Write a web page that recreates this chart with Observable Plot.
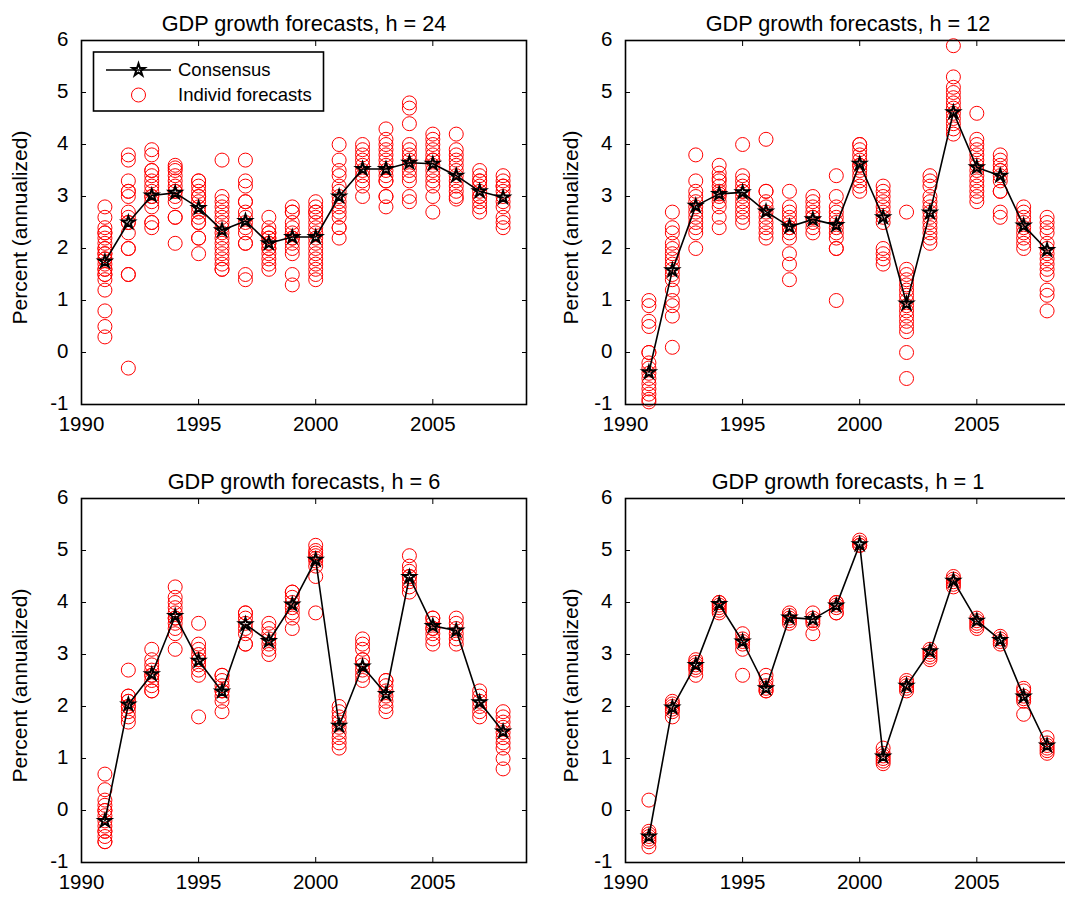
<!DOCTYPE html>
<html>
<head>
<meta charset="utf-8">
<script src="https://cdn.jsdelivr.net/npm/d3@7"></script>
<script src="https://cdn.jsdelivr.net/npm/@observablehq/plot@0.6"></script>
<style>
html, body { margin: 0; padding: 0; background: #fff; overflow: hidden; }
#wrap { position: relative; width: 1065px; height: 899px; overflow: hidden; background: #fff;
  font-family: "Liberation Sans", Arial, Helvetica, sans-serif; }
.panel { position: absolute; }
#legend { position: absolute; left: 0; top: 0; }
</style>
</head>
<body>
<div id="wrap"></div>
<script>
// ---------- DATA ----------
const years = [1991,1992,1993,1994,1995,1996,1997,1998,1999,2000,2001,2002,2003,2004,2005,2006,2007,2008];

const xTickLabels = [1990, 1995, 2000, 2005];
const yTickLabels = [-1, 0, 1, 2, 3, 4, 5, 6];

const titles = ["GDP growth forecasts, h = 24", "GDP growth forecasts, h = 12",
                "GDP growth forecasts, h = 6", "GDP growth forecasts, h = 1"];
const yLabel = "Percent (annualized)";
const legendLabels = ["Consensus", "Individ forecasts"];

const consensus24 = [1.75,2.5,3.02,3.07,2.78,2.35,2.53,2.1,2.22,2.22,3.0,3.53,3.53,3.65,3.63,3.4,3.1,2.98];
const consensus12 = [-0.38,1.58,2.82,3.05,3.08,2.71,2.42,2.56,2.45,3.63,2.6,0.94,2.69,4.62,3.56,3.4,2.44,1.97];
const consensus6  = [-0.2,2.04,2.62,3.74,2.88,2.29,3.58,3.26,3.96,4.82,1.63,2.77,2.24,4.49,3.55,3.46,2.08,1.52];
const consensus1  = [-0.5,1.98,2.8,3.97,3.25,2.35,3.71,3.68,3.94,5.12,1.04,2.4,3.06,4.42,3.65,3.28,2.19,1.25];

const indiv24 = [
  [2.8,2.6,2.4,2.3,2.3,2.2,2.1,2.0,2.0,1.9,1.9,1.8,1.8,1.7,1.6,1.6,1.5,1.5,1.4,1.2,0.8,0.5,0.3],
  [3.8,3.7,3.3,3.1,3.1,3.0,2.7,2.6,2.5,2.5,2.3,2.0,2.0,1.5,1.5,-0.3],
  [3.9,3.8,3.5,3.5,3.4,3.3,3.2,3.1,3.0,3.0,2.9,2.8,2.5,2.5,2.4],
  [3.6,3.55,3.5,3.4,3.3,3.2,3.1,3.1,3.0,2.9,2.6,2.6,2.1],
  [3.3,3.3,3.2,3.1,3.0,3.0,2.9,2.8,2.7,2.6,2.5,2.5,2.2,2.2,1.9],
  [3.7,3.0,2.9,2.8,2.7,2.6,2.5,2.4,2.3,2.2,2.1,2.0,1.9,1.8,1.7,1.6,1.6],
  [3.7,3.3,3.2,2.9,2.9,2.7,2.6,2.5,2.4,2.3,2.1,2.1,1.5,1.4],
  [2.6,2.4,2.3,2.3,2.2,2.2,2.1,2.1,2.0,2.0,1.9,1.8,1.7,1.6],
  [2.8,2.7,2.7,2.5,2.4,2.3,2.2,2.2,2.1,2.0,1.9,1.5,1.3],
  [2.9,2.8,2.7,2.7,2.6,2.5,2.4,2.3,2.2,2.1,2.0,1.9,1.8,1.7,1.6,1.5,1.4],
  [4.0,3.7,3.5,3.4,3.2,3.1,3.0,2.9,2.8,2.7,2.6,2.4,2.4,2.2],
  [4.0,3.9,3.8,3.7,3.6,3.5,3.4,3.3,3.2,3.0],
  [4.3,4.1,4.0,3.9,3.8,3.7,3.6,3.5,3.4,3.3,3.3,3.0,3.0,2.8],
  [4.8,4.7,4.4,4.0,3.9,3.8,3.7,3.6,3.5,3.4,3.3,3.0,2.9],
  [4.2,4.1,4.0,3.9,3.8,3.7,3.7,3.6,3.5,3.4,3.3,3.2,3.0,2.7],
  [4.2,3.9,3.8,3.7,3.6,3.5,3.4,3.3,3.2,3.1,3.0,2.95],
  [3.5,3.4,3.3,3.3,3.2,3.1,3.0,3.0,2.9,2.8,2.7],
  [3.4,3.3,3.2,3.2,3.1,3.0,2.9,2.8,2.6,2.5,2.4]
];

const indiv12 = [
  [1.0,0.9,0.6,0.5,0.0,0.0,-0.2,-0.3,-0.4,-0.5,-0.6,-0.7,-0.8,-0.9,-0.95],
  [2.7,2.4,2.3,2.1,2.0,1.9,1.8,1.7,1.6,1.5,1.4,1.2,1.0,0.9,0.7,0.1],
  [3.8,3.3,3.1,3.0,2.9,2.8,2.7,2.6,2.5,2.4,2.3,2.0],
  [3.6,3.45,3.35,3.3,3.2,3.1,3.05,3.0,2.9,2.8,2.6,2.4],
  [4.0,3.4,3.3,3.2,3.1,3.1,3.0,2.9,2.8,2.7,2.6,2.5],
  [4.1,3.1,3.1,2.9,2.8,2.7,2.6,2.5,2.4,2.3,2.2],
  [3.1,2.8,2.7,2.6,2.5,2.4,2.4,2.3,2.2,1.9,1.7,1.4],
  [3.0,2.9,2.8,2.7,2.6,2.6,2.5,2.4,2.3],
  [3.4,3.0,2.8,2.7,2.6,2.5,2.4,2.3,2.2,2.0,2.0,1.0],
  [4.0,4.0,3.9,3.8,3.7,3.6,3.6,3.5,3.4,3.3,3.2,3.1],
  [3.2,3.1,3.0,2.9,2.8,2.7,2.6,2.5,2.0,1.9,1.8,1.7],
  [2.7,1.6,1.5,1.4,1.3,1.2,1.1,1.0,0.9,0.8,0.7,0.6,0.5,0.4,0.0,-0.5],
  [3.4,3.3,3.2,3.0,2.9,2.8,2.7,2.6,2.5,2.4,2.3,2.2,2.1],
  [5.9,5.3,5.1,5.0,4.9,4.8,4.7,4.6,4.5,4.4,4.3,4.2],
  [4.6,4.1,4.0,3.9,3.8,3.7,3.6,3.5,3.4,3.3,3.2,3.1,3.0,2.9],
  [3.8,3.7,3.6,3.5,3.5,3.4,3.3,3.1,3.1,2.7,2.6],
  [2.8,2.7,2.6,2.5,2.4,2.3,2.2,2.1,2.0],
  [2.6,2.5,2.4,2.3,2.1,2.0,1.9,1.8,1.7,1.6,1.5,1.2,1.1,0.8]
];

const indiv6 = [
  [0.7,0.4,0.2,0.1,0.0,0.0,-0.1,-0.2,-0.3,-0.4,-0.4,-0.5,-0.6,-0.6],
  [2.7,2.2,2.2,2.1,2.1,2.0,2.0,1.9,1.8,1.7],
  [3.1,2.9,2.8,2.7,2.6,2.6,2.5,2.4,2.3,2.3],
  [4.3,4.1,4.0,3.9,3.8,3.7,3.7,3.6,3.5,3.4,3.1],
  [3.6,3.2,3.1,3.0,2.9,2.9,2.8,2.7,2.6,1.8],
  [2.6,2.6,2.5,2.4,2.3,2.3,2.2,2.1,1.9],
  [3.8,3.8,3.7,3.6,3.5,3.4,3.2,3.2],
  [3.6,3.5,3.4,3.3,3.2,3.1,3.0],
  [4.2,4.2,4.1,4.0,3.9,3.8,3.7,3.5],
  [5.1,5.0,4.95,4.9,4.85,4.8,4.7,4.5,3.8],
  [2.0,1.9,1.8,1.7,1.6,1.5,1.4,1.3,1.2],
  [3.3,3.2,3.1,2.9,2.9,2.8,2.7,2.6,2.5],
  [2.5,2.5,2.4,2.3,2.2,2.1,2.0,1.9],
  [4.9,4.7,4.6,4.5,4.5,4.4,4.3,4.2],
  [3.7,3.7,3.6,3.5,3.5,3.4,3.3,3.2],
  [3.7,3.6,3.5,3.4,3.3,3.2],
  [2.3,2.2,2.1,2.0,1.9,1.8],
  [1.9,1.8,1.7,1.6,1.5,1.4,1.3,1.2,1.0,0.8]
];

const indiv1 = [
  [0.2,-0.4,-0.45,-0.5,-0.55,-0.6,-0.7],
  [2.1,2.05,2.0,1.95,1.9,1.8],
  [2.9,2.85,2.8,2.75,2.7,2.6],
  [4.0,4.0,3.95,3.9,3.85,3.8],
  [3.4,3.3,3.25,3.2,3.1,2.6],
  [2.6,2.5,2.4,2.35,2.3,2.3],
  [3.8,3.75,3.7,3.65,3.6],
  [3.8,3.7,3.65,3.6,3.4],
  [4.0,4.0,3.95,3.9,3.8,3.8],
  [5.2,5.15,5.1,5.1],
  [1.2,1.1,1.05,1.0,0.95,0.9],
  [2.5,2.45,2.4,2.35,2.3],
  [3.1,3.05,3.0,2.95,2.9],
  [4.5,4.45,4.4,4.35,4.3],
  [3.7,3.65,3.6,3.55,3.5],
  [3.35,3.3,3.25,3.2],
  [2.35,2.3,2.2,2.15,2.1,1.85],
  [1.4,1.3,1.25,1.2,1.15,1.1]
];

// ---------- DRAWING ----------
const FONT = '"Liberation Sans", Arial, Helvetica, sans-serif';
const RED = "#ff0000";
const wrap = document.getElementById("wrap");

function makePanel(title, indiv, consensus, left, top, marginLeft, labelDx) {
  const indivRows = years.flatMap((yr, i) => indiv[i].map(v => ({year: yr, value: v})));
  const consRows = years.map((yr, i) => ({year: yr, value: consensus[i]}));
  const frameW = 445, frameH = 364, mt = 40, mb = 44, mr = 6;
  const fmt = d => String(d);
  const svg = Plot.plot({
    width: marginLeft + frameW + mr,
    height: mt + frameH + mb,
    marginLeft, marginRight: mr, marginTop: mt, marginBottom: mb,
    style: {fontFamily: FONT, fontSize: "20.5px", background: "transparent", color: "#000", overflow: "visible"},
    x: {domain: [1990, 2009], nice: false},
    y: {domain: [-1, 6], nice: false},
    marks: [
      Plot.dot(indivRows, {x: "year", y: "value", r: 7, stroke: RED, strokeWidth: 1, fill: "none"}),
      Plot.line(consRows, {x: "year", y: "value", stroke: "#000", strokeWidth: 1.6}),
      Plot.dot(consRows, {x: "year", y: "value", symbol: "star", r: 3.9, stroke: "#000", strokeWidth: 2, fill: "none"}),
      // tick labels
      Plot.axisY(yTickLabels, {anchor: "left", tickSize: 0, tickPadding: 13, dy: -1, tickFormat: fmt, label: null, fontSize: 20.5}),
      Plot.axisX(xTickLabels, {anchor: "bottom", tickSize: 0, tickPadding: 12, tickFormat: fmt, label: null, fontSize: 20.5}),
      // inward tick marks
      Plot.axisY(yTickLabels, {anchor: "left", tickSize: -5, fill: "none", label: null}),
      Plot.axisY(yTickLabels, {anchor: "right", tickSize: -5, fill: "none", label: null}),
      Plot.axisX(xTickLabels, {anchor: "bottom", tickSize: -5, fill: "none", label: null}),
      Plot.axisX(xTickLabels, {anchor: "top", tickSize: -5, fill: "none", label: null}),
      Plot.frame({stroke: "#000", strokeWidth: 1.6}),
      // title and y label
      Plot.text([title], {frameAnchor: "top", dy: -16, lineAnchor: "middle", fontSize: 21.7, fill: "#000"}),
      Plot.text([yLabel], {frameAnchor: "left", rotate: -90, dx: labelDx, dy: 5, lineAnchor: "middle", textAnchor: "middle", fontSize: 21, fill: "#000"})
    ]
  });
  svg.classList.add("panel");
  svg.style.left = left + "px";
  svg.style.top = top + "px";
  wrap.appendChild(svg);
}

makePanel(titles[0], indiv24, consensus24, 0, 0, 81, -61);
makePanel(titles[1], indiv12, consensus12, 540, 0, 85, -54);
makePanel(titles[2], indiv6, consensus6, 0, 458, 81, -61);
makePanel(titles[3], indiv1, consensus1, 540, 458, 85, -54);

// ---------- LEGEND (panel 1) ----------
const ns = "http://www.w3.org/2000/svg";
const leg = document.createElementNS(ns, "svg");
leg.setAttribute("id", "legend");
leg.setAttribute("width", 340);
leg.setAttribute("height", 120);
leg.style.position = "absolute"; leg.style.left = "0px"; leg.style.top = "0px";
const L = d3.select(leg);
L.append("rect").attr("x", 93.5).attr("y", 52).attr("width", 230).attr("height", 59)
  .attr("fill", "#fff").attr("stroke", "#000").attr("stroke-width", 1.6);
L.append("line").attr("x1", 106).attr("x2", 171).attr("y1", 70).attr("y2", 70)
  .attr("stroke", "#000").attr("stroke-width", 1.6);
L.append("path").attr("d", d3.symbol(d3.symbolStar, 3.9 * 3.9 * Math.PI)())
  .attr("transform", "translate(138.5,70)").attr("fill", "none").attr("stroke", "#000").attr("stroke-width", 2);
L.append("circle").attr("cx", 138.5).attr("cy", 95).attr("r", 7).attr("fill", "none").attr("stroke", RED).attr("stroke-width", 1);
L.selectAll("text.lab").data(legendLabels).join("text").attr("class", "lab")
  .attr("x", 178).attr("y", (d, i) => i === 0 ? 70 : 95)
  .attr("dy", "0.35em").attr("font-family", FONT).attr("font-size", 18.5).attr("fill", "#000")
  .text(d => d);
wrap.appendChild(leg);
</script>
</body>
</html>
